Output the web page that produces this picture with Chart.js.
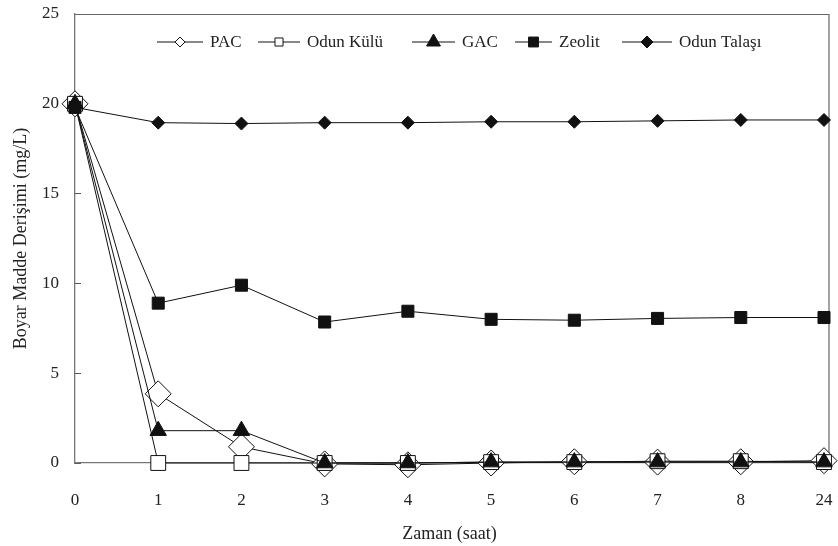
<!DOCTYPE html>
<html>
<head>
<meta charset="utf-8">
<script src="https://cdn.jsdelivr.net/npm/chart.js@4/dist/chart.umd.min.js"></script>
<style>
  html, body { margin: 0; padding: 0; background: #fff; }
</style>
</head>
<body>
<canvas id="chart" width="838" height="546"></canvas>
<script>
// x categories (hours) - evenly spaced in the original figure
const timeLabels = ['0', '1', '2', '3', '4', '5', '6', '7', '8', '24'];

// dye concentration (mg/L)
const pac        = [20, 3.85, 0.9, -0.05, -0.1, 0, 0.07, 0.05, 0.07, 0.13];
const odunKulu   = [20, 0, 0, 0, 0, 0.05, 0.05, 0.1, 0.1, 0.05];
const gac        = [20, 1.8, 1.8, 0, 0, 0.05, 0.05, 0.05, 0.05, 0.05];
const zeolit     = [19.8, 8.9, 9.9, 7.85, 8.45, 8.0, 7.95, 8.05, 8.1, 8.1];
const odunTalasi = [19.8, 18.95, 18.9, 18.95, 18.95, 19.0, 19.0, 19.05, 19.1, 19.1];

const seriesNames = ['PAC', 'Odun Külü', 'GAC', 'Zeolit', 'Odun Talaşı'];

// legend layout (the legend sits inside the plot, like the original)
const legendLineX = [157, 258, 412, 515, 622];
const legendTextX = [210, 307, 462, 559, 679];
const legendY = 42;

const FONT = '"Liberation Serif", "Times New Roman", serif';
Chart.defaults.font.family = FONT;
Chart.defaults.font.size = 17;
Chart.defaults.color = '#222';

function makeSet(label, data, style, radius, fill, legendRadius, order) {
    return {
        label: label,
        data: data,
        borderColor: '#111',
        borderWidth: 1,
        pointStyle: style,
        pointRadius: radius,
        pointBackgroundColor: fill,
        pointBorderColor: '#111',
        pointBorderWidth: 1,
        tension: 0,
        clip: false,
        order: order,
        legendRadius: legendRadius
    };
}

const datasets = [
    makeSet(seriesNames[0], pac, 'rectRot', 13, '#fff', 5, 4),
    makeSet(seriesNames[1], odunKulu, 'rect', 10.5, '#fff', 5.7, 3),
    makeSet(seriesNames[2], gac, 'triangle', 9.5, '#111', 8, 2),
    makeSet(seriesNames[3], zeolit, 'rect', 8.5, '#111', 7, 1),
    makeSet(seriesNames[4], odunTalasi, 'rectRot', 6.5, '#111', 6, 0)
];

// top and right edges of the box (right edge sits a little past the last point)
const frame = {
    id: 'frame',
    beforeDatasetsDraw(chart) {
        const { ctx, chartArea: a } = chart;
        const right = a.right + 5;
        ctx.save();
        ctx.strokeStyle = '#666';
        ctx.lineWidth = 1.2;
        ctx.beginPath();
        ctx.moveTo(a.left, a.top + 0.5);
        ctx.lineTo(right, a.top + 0.5);
        ctx.lineTo(right, a.bottom);
        ctx.lineTo(a.right, a.bottom);
        ctx.stroke();
        ctx.restore();
    }
};

// legend drawn as line - marker - line, then the label
const lineLegend = {
    id: 'lineLegend',
    afterDraw(chart) {
        const ctx = chart.ctx;
        ctx.save();
        ctx.font = '17px ' + FONT;
        ctx.textBaseline = 'middle';
        chart.data.datasets.forEach((ds, i) => {
            const x0 = legendLineX[i];
            const x1 = legendTextX[i] - 7;
            ctx.strokeStyle = '#111';
            ctx.lineWidth = 1;
            ctx.beginPath();
            ctx.moveTo(x0, legendY);
            ctx.lineTo(x1, legendY);
            ctx.stroke();
            ctx.fillStyle = ds.pointBackgroundColor;
            Chart.helpers.drawPoint(ctx, {
                pointStyle: ds.pointStyle,
                radius: ds.legendRadius,
                rotation: 0,
                borderWidth: 1
            }, (x0 + x1) / 2, legendY);
            ctx.fillStyle = '#222';
            ctx.fillText(ds.label, legendTextX[i], legendY + 1);
        });
        ctx.restore();
    }
};

new Chart(document.getElementById('chart'), {
    type: 'line',
    data: { labels: timeLabels, datasets: datasets },
    options: {
        responsive: false,
        animation: false,
        devicePixelRatio: 1,
        layout: { padding: { top: 13, right: 12, bottom: 0, left: 0 } },
        plugins: {
            legend: { display: false },
            tooltip: { enabled: false }
        },
        scales: {
            x: {
                type: 'category',
                offset: false,
                grid: { display: false },
                border: { color: '#777', width: 1.3 },
                ticks: { padding: 19, maxRotation: 0, autoSkip: false, font: { size: 17 } },
                title: {
                    display: true,
                    text: 'Zaman (saat)',
                    font: { size: 18 },
                    padding: { top: 0, bottom: 1 }
                },
                afterFit(scale) {
                    scale.height = 83;
                    scale.paddingLeft = 0;
                    scale.paddingRight = 0;
                }
            },
            y: {
                min: 0,
                max: 25,
                grid: { drawOnChartArea: false, drawTicks: true, tickLength: -6, color: '#555' },
                border: { color: '#777', width: 1.3 },
                ticks: { stepSize: 5, padding: 22, font: { size: 17 } },
                title: {
                    display: true,
                    text: 'Boyar Madde Derişimi (mg/L)',
                    font: { size: 18 },
                    padding: { top: 10, bottom: 0 }
                },
                afterFit(scale) {
                    scale.width = 75;
                    scale.paddingTop = 0;
                    scale.paddingBottom = 0;
                }
            }
        }
    },
    plugins: [frame, lineLegend]
});
</script>
</body>
</html>
